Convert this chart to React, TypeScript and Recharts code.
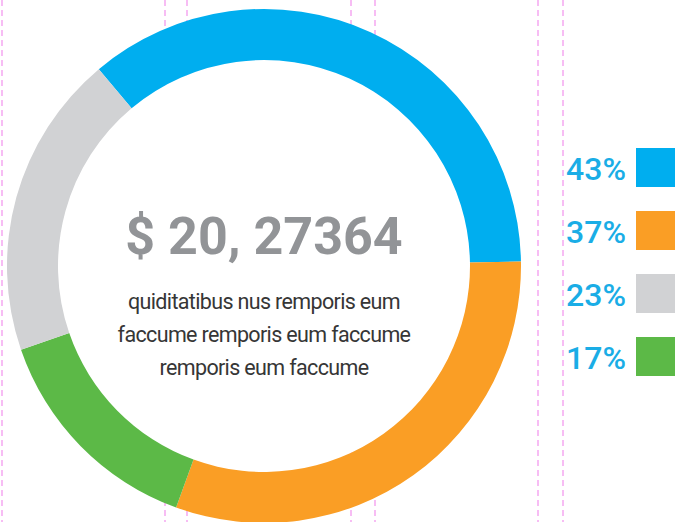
import React from "react";
import { PieChart, Pie, Cell } from "recharts";

const W = 675;
const H = 522;

// segments in legend order
const labels = ["Blue", "Orange", "Gray", "Green"];
const values = [43, 37, 23, 17];
const colors = ["#00aeef", "#fa9e25", "#d1d2d4", "#5cb947"];
// order the ring is drawn in, clockwise from the top-left
const ringOrder = [0, 1, 3, 2];

const amount = "$ 20, 27364";
const bodyLines = [
  "quiditatibus nus remporis eum",
  "faccume remporis eum faccume",
  "remporis eum faccume",
];

const guideLines = [2, 165, 187, 351, 375, 538, 563];

const ringData = ringOrder.map((i) => ({ name: labels[i], value: values[i], color: colors[i] }));
const holeData = [{ name: "hole", value: 1 }];

const CX = 264;
const CY = 266;
const INNER = 206;
const OUTER = 257;

export default function App() {
  return (
    <div
      style={{
        position: "absolute",
        left: 0,
        top: 0,
        width: W,
        height: H,
        overflow: "hidden",
        background: "#fff",
        fontFamily: "Roboto, 'Noto Sans', sans-serif",
      }}
    >
      <svg width={W} height={H} style={{ position: "absolute", left: 0, top: 0 }}>
        {guideLines.map((x) => (
          <line key={x} x1={x} x2={x} y1={0} y2={H} stroke="#f7bdf4" strokeWidth={2} strokeDasharray="6 4" />
        ))}
      </svg>

      <div style={{ position: "absolute", left: 0, top: 0 }}>
        <PieChart width={W} height={H} margin={{ top: 0, right: 0, bottom: 0, left: 0 }}>
          <Pie
            data={holeData}
            dataKey="value"
            cx={CX}
            cy={CY}
            innerRadius={0}
            outerRadius={INNER}
            fill="#fff"
            stroke="none"
            isAnimationActive={false}
          />
          <Pie
            data={ringData}
            dataKey="value"
            cx={CX}
            cy={CY}
            innerRadius={INNER}
            outerRadius={OUTER}
            startAngle={130}
            endAngle={-230}
            stroke="none"
            isAnimationActive={false}
          >
            {ringData.map((d) => (
              <Cell key={d.name} fill={d.color} />
            ))}
          </Pie>
        </PieChart>
      </div>

      {/* centre text */}
      <div
        style={{
          position: "absolute",
          left: CX - 180,
          width: 360,
          top: 206,
          textAlign: "center",
          fontSize: 52,
          fontWeight: 700,
          color: "#929497",
          lineHeight: "62px",
          whiteSpace: "nowrap",
        }}
      >
        {amount}
      </div>
      <div
        style={{
          position: "absolute",
          left: CX - 180,
          width: 360,
          top: 285,
          textAlign: "center",
          fontSize: 21.5,
          letterSpacing: -0.65,
          color: "#363636",
          lineHeight: "33px",
        }}
      >
        {bodyLines.map((l) => (
          <div key={l} style={{ whiteSpace: "nowrap" }}>{l}</div>
        ))}
      </div>

      {/* legend */}
      {labels.map((name, i) => (
        <div
          key={name}
          style={{
            position: "absolute",
            left: 540,
            top: 148 + i * 63,
            width: 135,
            height: 39,
            display: "flex",
            alignItems: "center",
            justifyContent: "flex-end",
          }}
        >
          <span
            style={{
              fontSize: 32,
              fontWeight: 500,
              color: "#1aade6",
              lineHeight: "39px",
              marginRight: 10,
              position: "relative",
              top: 2,
            }}
          >
            {values[i]}%
          </span>
          <div style={{ width: 39, height: 39, background: colors[i], flex: "none" }} />
        </div>
      ))}
    </div>
  );
}
